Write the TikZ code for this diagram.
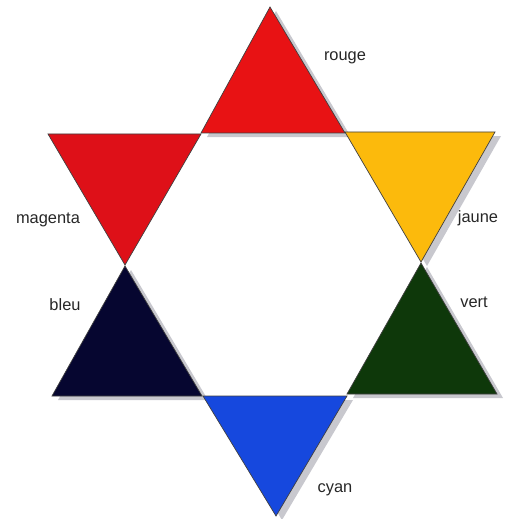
\documentclass[tikz,border=0pt]{standalone}
\usepackage{fontspec}
\setmainfont{Liberation Sans}
\definecolor{rougec}{RGB}{232,18,20}
\definecolor{magentac}{RGB}{222,16,24}
\definecolor{jaunec}{RGB}{252,186,12}
\definecolor{bleuc}{RGB}{6,6,48}
\definecolor{vertc}{RGB}{14,56,10}
\definecolor{cyanc}{RGB}{22,72,222}
\definecolor{ombre}{RGB}{200,200,206}
\tikzset{
  tri/.style={draw=black!75,line width=0.35pt,line join=miter},
  ombretri/.style={fill=ombre,shift={(6,4)}},
  lbl/.style={font=\fontsize{8.2}{10}\selectfont,text=black!85,inner sep=0pt}
}
\begin{document}
\begin{tikzpicture}[x=0.5pt,y=-0.5pt]
\useasboundingbox (0,0) rectangle (515,519);
% ombres
\fill[ombretri] (270,7) -- (201,133) -- (345,133) -- cycle;
\fill[ombretri] (345,132) -- (495,132) -- (421,262) -- cycle;
\fill[ombretri] (125,266) -- (52,396) -- (202,396) -- cycle;
\fill[ombretri] (421,263) -- (347,394) -- (497,394) -- cycle;
\fill[ombretri] (203,396) -- (347,396) -- (276,516) -- cycle;
% triangles
\filldraw[tri,fill=rougec] (270,7) -- (201,133) -- (345,133) -- cycle;
\filldraw[tri,fill=magentac] (48,134) -- (201,134) -- (125,265) -- cycle;
\filldraw[tri,fill=jaunec] (345,132) -- (495,132) -- (421,262) -- cycle;
\filldraw[tri,fill=bleuc] (125,266) -- (52,396) -- (202,396) -- cycle;
\filldraw[tri,fill=vertc] (421,263) -- (347,394) -- (497,394) -- cycle;
\filldraw[tri,fill=cyanc] (203,396) -- (347,396) -- (276,516) -- cycle;
% noms
\node[lbl] (rouge) at (345,58) {rouge};
\node[lbl] (magenta) at (48,220) {magenta};
\node[lbl] (jaune) at (478,218) {jaune};
\node[lbl] (bleu) at (65,305) {bleu};
\node[lbl] (vert) at (474,302) {vert};
\node[lbl] (cyan) at (335,490) {cyan};
\end{tikzpicture}
\end{document}
